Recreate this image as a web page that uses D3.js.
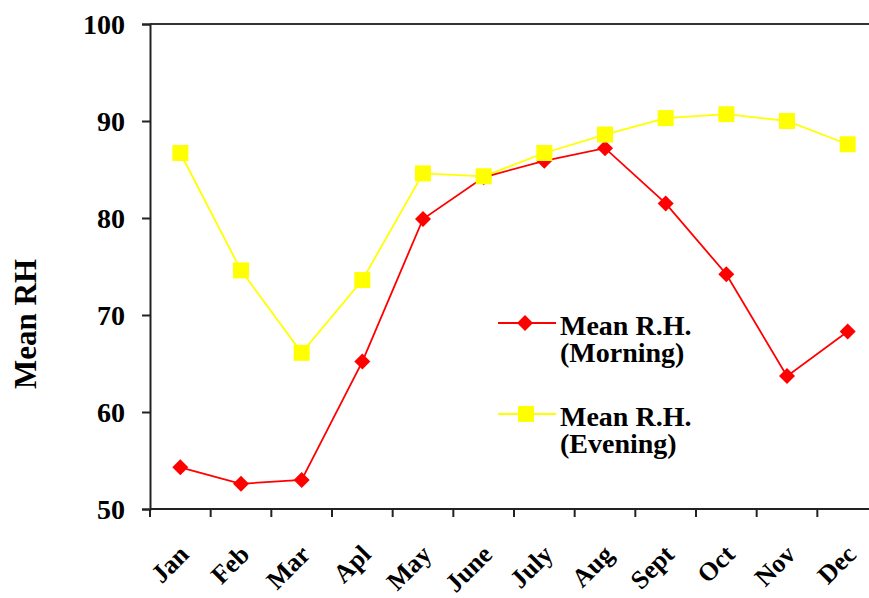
<!DOCTYPE html>
<html>
<head>
<meta charset="utf-8">
<script src="https://cdn.jsdelivr.net/npm/d3@7"></script>
<style>
  html, body { margin: 0; padding: 0; background: #fff; }
  svg { display: block; }
  text { font-family: "Liberation Serif", "Times New Roman", serif; font-weight: bold; fill: #000; }
</style>
</head>
<body>
<svg id="chart" width="869" height="598"></svg>
<script>
const months = ["Jan","Feb","Mar","Apl","May","June","July","Aug","Sept","Oct","Nov","Dec"];
const morning = [54.3, 52.6, 53.0, 65.2, 79.9, 84.2, 85.9, 87.2, 81.5, 74.2, 63.7, 68.3];
const evening = [86.7, 74.6, 66.1, 73.6, 84.6, 84.3, 86.7, 88.6, 90.3, 90.7, 90.0, 87.6];
const yTicks = [50, 60, 70, 80, 90, 100];
const seriesNames = [["Mean R.H.", "(Morning)"], ["Mean R.H.", "(Evening)"]];

(function () {
const svg = d3.select("#chart");
const mLeft = 150, mRight = 878, mTop = 24, mBottom = 509;

const x = d3.scaleBand().domain(months).range([mLeft, mRight]).paddingInner(0).paddingOuter(0);
const y = d3.scaleLinear().domain([50, 100]).range([mBottom, mTop]);

// top line at 100
svg.append("line").attr("x1", mLeft).attr("x2", 869).attr("y1", y(100)).attr("y2", y(100))
  .attr("stroke", "#333").attr("stroke-width", 2);

// Y axis
const yAxis = svg.append("g").attr("transform", `translate(${mLeft},0)`)
  .call(d3.axisLeft(y).tickValues(yTicks).tickSize(8).tickPadding(17));
yAxis.select(".domain").attr("stroke", "#222").attr("stroke-width", 2);
yAxis.selectAll(".tick line").attr("stroke", "#222").attr("stroke-width", 2);
yAxis.selectAll(".tick text").style("font-size", "28px").style("font-family", '"Liberation Serif", serif')
  .style("font-weight", "bold").attr("dy", "0.35em");

// X axis: ticks at band boundaries
const xAxis = svg.append("g").attr("transform", `translate(0,${mBottom})`);
xAxis.append("line").attr("x1", mLeft).attr("x2", mRight).attr("y1", 0).attr("y2", 0)
  .attr("stroke", "#222").attr("stroke-width", 2);
xAxis.selectAll("line.tk").data(months).enter().append("line").attr("class", "tk")
  .attr("x1", d => x(d)).attr("x2", d => x(d)).attr("y1", 0).attr("y2", 8)
  .attr("stroke", "#222").attr("stroke-width", 2);
xAxis.selectAll("text.lbl").data(months).enter().append("text").attr("class", "lbl")
  .attr("transform", d => `translate(${x(d) + x.bandwidth() / 2 + 10},47) rotate(-45)`)
  .attr("text-anchor", "end").style("font-size", "26px").text(d => d);

// Y axis title
svg.append("text").attr("transform", `translate(36,324) rotate(-90)`)
  .attr("text-anchor", "middle").style("font-size", "31px").text("Mean RH");

const cx = d => x(d) + x.bandwidth() / 2;
const line = d3.line().x((d, i) => cx(months[i])).y(d => y(d));

// Evening (yellow)
svg.append("path").datum(evening).attr("d", line).attr("fill", "none")
  .attr("stroke", "#ffff00").attr("stroke-width", 1.8);
// Morning (red)
svg.append("path").datum(morning).attr("d", line).attr("fill", "none")
  .attr("stroke", "#ff0000").attr("stroke-width", 1.8);

function drawDiamond(g, px, py) {
  g.append("path").attr("d", "M0,-8L8,0L0,8L-8,0Z").attr("transform", `translate(${px},${py})`)
    .attr("fill", "#ff0000");
}
function drawSquare(g, px, py) {
  g.append("rect").attr("x", px - 8).attr("y", py - 8).attr("width", 16).attr("height", 16)
    .attr("fill", "#ffff00");
}

const mk = svg.append("g");
morning.forEach((v, i) => drawDiamond(mk, cx(months[i]), y(v)));
evening.forEach((v, i) => drawSquare(mk, cx(months[i]), y(v)));

// Legend
const lg = svg.append("g");
const legY = [323, 414];
[0, 1].forEach(k => {
  const col = k === 0 ? "#ff0000" : "#ffff00";
  lg.append("line").attr("x1", 498).attr("x2", 556).attr("y1", legY[k]).attr("y2", legY[k])
    .attr("stroke", col).attr("stroke-width", 1.8);
  if (k === 0) drawDiamond(lg, 525, legY[k]); else drawSquare(lg, 526, legY[k]);
  const t = lg.append("text").attr("x", 560).attr("y", legY[k] + 12).style("font-size", "28px");
  t.append("tspan").attr("x", 560).text(seriesNames[k][0]);
  t.append("tspan").attr("x", 560).attr("dy", 27).text(seriesNames[k][1]);
});
})();
</script>
</body>
</html>
